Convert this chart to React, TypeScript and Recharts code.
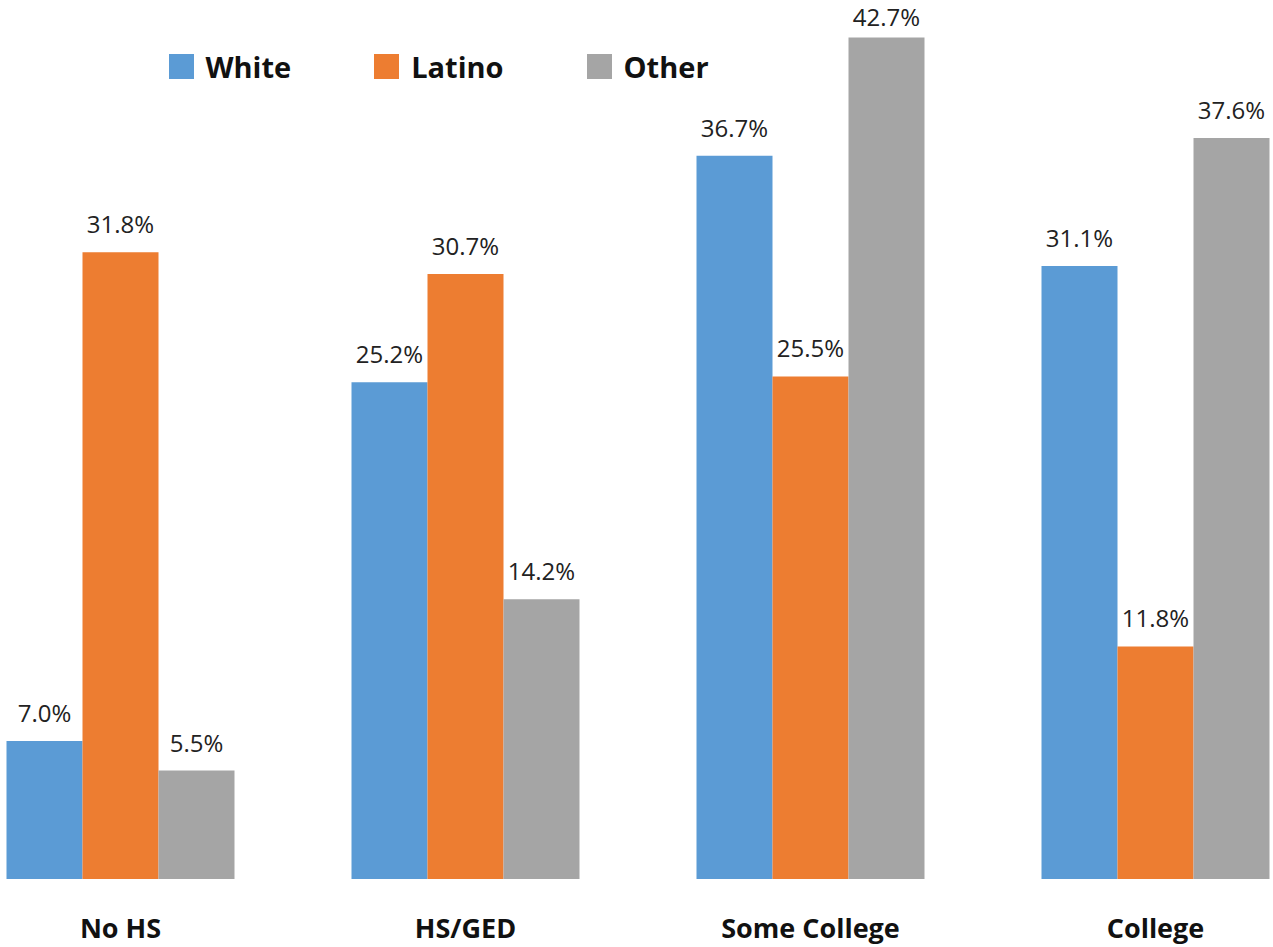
import { BarChart, Bar, XAxis, YAxis, Legend, LabelList } from "recharts";

const categories = ["No HS", "HS/GED", "Some College", "College"];
const white = [7.0, 25.2, 36.7, 31.1];
const latino = [31.8, 30.7, 25.5, 11.8];
const other = [5.5, 14.2, 42.7, 37.6];

const series = [
  { key: "white", name: "White", color: "#5B9BD5" },
  { key: "latino", name: "Latino", color: "#ED7D31" },
  { key: "other", name: "Other", color: "#A5A5A5" },
];

const data = categories.map((c, i) => ({
  category: c,
  white: white[i],
  latino: latino[i],
  other: other[i],
}));

const FONT = "'Open Sans', sans-serif";

function CategoryTick(props: any) {
  const { x, y, payload } = props;
  return (
    <text
      x={x}
      y={y + 51}
      textAnchor="middle"
      fontFamily={FONT}
      fontWeight={700}
      fontSize={27}
      fill="#111"
    >
      {payload.value}
    </text>
  );
}

// value label above a bar; kept inside the top edge like the original
function ValueLabel(props: any) {
  const { x, y, width, value } = props;
  const baseline = Math.max(Number(y) - 19, 26);
  return (
    <text
      x={Number(x) + Number(width) / 2}
      y={baseline}
      textAnchor="middle"
      fontFamily={FONT}
      fontSize={24}
      fill="#222"
    >
      {`${Number(value).toFixed(1)}%`}
    </text>
  );
}

function LegendContent() {
  return (
    <div style={{ display: "flex", alignItems: "center", fontFamily: FONT }}>
      {series.map((s) => (
        <div
          key={s.key}
          style={{ display: "flex", alignItems: "center", marginRight: 83 }}
        >
          <div
            style={{ width: 25, height: 25, background: s.color, marginRight: 12 }}
          />
          <span style={{ fontSize: 29, fontWeight: 700, color: "#111" }}>
            {s.name}
          </span>
        </div>
      ))}
    </div>
  );
}

export default function App() {
  return (
    <div
      style={{
        position: "absolute",
        left: 0,
        top: 0,
        width: 1273,
        height: 947,
        overflow: "hidden",
        background: "#fff",
      }}
    >
      <div style={{ position: "absolute", left: -52.5, top: 0 }}>
        <BarChart
          width={1380}
          height={947}
          data={data}
          margin={{ top: 0, right: 0, bottom: 0, left: 0 }}
          barCategoryGap={58.5}
          barGap={0}
        >
          <XAxis
            dataKey="category"
            height={68}
            axisLine={false}
            tickLine={false}
            interval={0}
            tick={<CategoryTick />}
          />
          <YAxis hide domain={[0, 44.6]} allowDataOverflow />
          <Legend
            verticalAlign="middle"
            content={<LegendContent />}
            wrapperStyle={{ top: 47, left: 221, width: "auto" }}
          />
          {series.map((s) => (
            <Bar
              key={s.key}
              dataKey={s.key}
              name={s.name}
              fill={s.color}
              isAnimationActive={false}
            >
              <LabelList dataKey={s.key} content={<ValueLabel />} />
            </Bar>
          ))}
        </BarChart>
      </div>
    </div>
  );
}
